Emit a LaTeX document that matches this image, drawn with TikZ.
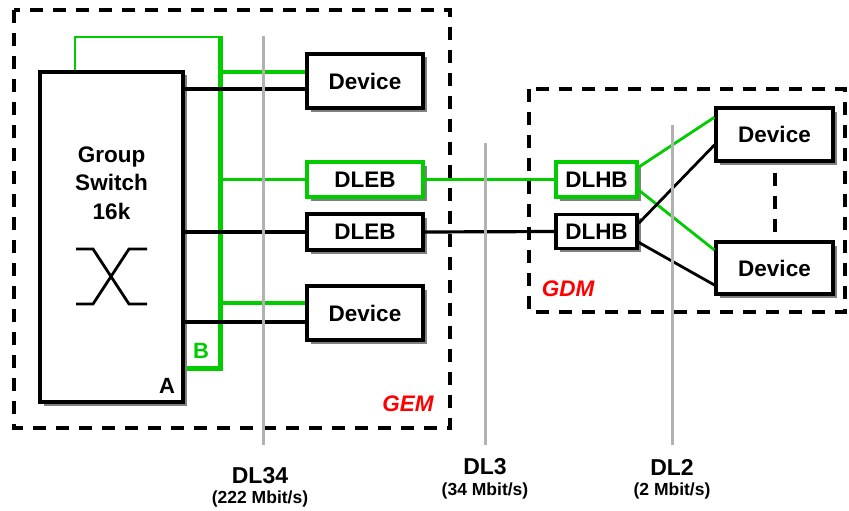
\documentclass[tikz,border=0pt]{standalone}
\usepackage{fontspec}
\setmainfont{Liberation Sans}
\usetikzlibrary{shadows,calc}
\definecolor{busgreen}{RGB}{0,204,0}
\definecolor{tapgray}{RGB}{178,178,178}
\definecolor{zonered}{RGB}{255,0,0}
\tikzset{
  unit/.style={draw, line width=3.2pt, fill=white, rectangle, inner sep=0pt,
    font=\fontsize{22.5}{27}\selectfont\bfseries,
    drop shadow={shadow xshift=3.5pt, shadow yshift=-3.5pt, fill=black!50, opacity=1}},
  gunit/.style={unit, draw=busgreen},
  gline/.style={busgreen, line width=3.2pt},
  bline/.style={black, line width=3.2pt},
  busline/.style={busgreen, line width=5pt},
  loopline/.style={busgreen, line width=2.7pt},
  tapline/.style={tapgray, line width=3pt},
  zone/.style={line width=3.3pt, dash pattern=on 13pt off 10pt},
  zonename/.style={text=zonered, font=\fontsize{22.5}{27}\selectfont\bfseries\itshape},
  linkname/.style={font=\fontsize{23}{27}\selectfont\bfseries},
  ratename/.style={font=\fontsize{17.5}{21}\selectfont\bfseries}
}
\begin{document}
\begin{tikzpicture}[x=1pt, y=-1pt]
\useasboundingbox (0,0) rectangle (849,511);

% zone borders
\draw[zone] (14,10) rectangle (450,428);
\draw[zone] (529,89) rectangle (845,312);

% group switch
\node[unit, minimum width=143pt, minimum height=330pt] (sw) at (111.5,237) {};
\node[font=\fontsize{22.5}{28.5}\selectfont\bfseries, align=center] (swname) at (111.5,183) {Group\\Switch\\16k};
\draw[line width=2.8pt] (76,249) -- (93,249) -- (129,304) -- (147,304);
\draw[line width=2.8pt] (76,304) -- (93,304) -- (129,249) -- (147,249);
\node[font=\fontsize{22}{26}\selectfont\bfseries] (aname) at (167,386) {A};

% GEM units
\node[unit, minimum width=116pt, minimum height=54pt] (dev1) at (365,81) {Device};
\node[gunit, minimum width=116pt, minimum height=35pt] (dleb1) at (365,179.5) {DLEB};
\node[unit, minimum width=116pt, minimum height=36pt] (dleb2) at (365,232) {DLEB};
\node[unit, minimum width=116pt, minimum height=54pt] (dev2) at (365,313) {Device};

% GDM units
\node[gunit, minimum width=81pt, minimum height=35pt] (dlhb1) at (596.5,179.5) {DLHB};
\node[unit, minimum width=81pt, minimum height=34pt] (dlhb2) at (596.5,231.5) {DLHB};
\node[unit, minimum width=117pt, minimum height=53pt] (devr1) at (774.5,134.5) {Device};
\node[unit, minimum width=117pt, minimum height=52pt] (devr2) at (774.5,268) {Device};

% green control bus
\coordinate (bustop) at (220,37);
\coordinate (busbot) at (220,368);
\coordinate (busend) at (187,368);
\draw[loopline] ($(sw.north west)!0.25!(sw.north east)$) |- (bustop);
\draw[busline] ($(bustop)+(0,-1.2)$) -- (busbot) -- (busend);
\node[text=busgreen, font=\fontsize{22}{26}\selectfont\bfseries] (bname) at (201,351) {B};

% branches inside GEM
\coordinate (d1g) at ($(dev1.west)+(0,-9)$);
\coordinate (d1b) at ($(dev1.west)+(0,8)$);
\coordinate (d2g) at ($(dev2.west)+(0,-10)$);
\coordinate (d2b) at ($(dev2.west)+(0,9)$);
\draw[gline] (bustop |- d1g) -- (d1g);
\draw[bline] (sw.east |- d1b) -- (d1b);
\draw[gline] (bustop |- dleb1.west) -- (dleb1.west);
\draw[bline] (sw.east |- dleb2.west) -- (dleb2.west);
\draw[gline] (bustop |- d2g) -- (d2g);
\draw[bline] (sw.east |- d2b) -- (d2b);

% DL3 links
\draw[gline] (dleb1.east) -- (dlhb1.west);
\draw[bline] (dleb2.east) -- (dlhb2.west);

% DL2 links
\draw[gline, line width=2.8pt] ($(dlhb1.east)+(0,-12.3)$) -- ($(devr1.west)+(0,-17.2)$);
\draw[gline, line width=2.8pt] ($(dlhb1.east)+(0,10.5)$) -- ($(devr2.west)+(0,-18)$);
\draw[bline, line width=2.8pt] ($(dlhb2.east)+(0,-8.2)$) -- ($(devr1.west)+(0,10.5)$);
\draw[bline, line width=2.8pt] ($(dlhb2.east)+(0,10.8)$) -- ($(devr2.west)+(0,17)$);
\draw[line width=4pt, dash pattern=on 13pt off 10pt, dash phase=13pt] (devr1.south) -- (devr2.north);

% zone names
\node[zonename] (gem) at (408,404) {GEM};
\node[zonename] (gdm) at (568,289) {GDM};

% data link tap lines
\coordinate (t34a) at (263,36);
\coordinate (t34b) at (263,445);
\coordinate (t3a) at (485,143);
\coordinate (t3b) at (485,445);
\coordinate (t2a) at (672,125);
\coordinate (t2b) at (672,445);
\draw[tapline] (t34a) -- (t34b);
\draw[tapline] (t3a) -- (t3b);
\draw[tapline] (t2a) -- (t2b);

\node[linkname] (dl34) at (260,476) {DL34};
\node[ratename] (r34) at (260,499) {(222 Mbit/s)};
\node[linkname] (dl3) at (485,467) {DL3};
\node[ratename] (r3) at (485,491) {(34 Mbit/s)};
\node[linkname] (dl2) at (672,467) {DL2};
\node[ratename] (r2) at (672,491) {(2 Mbit/s)};
\end{tikzpicture}
\end{document}
